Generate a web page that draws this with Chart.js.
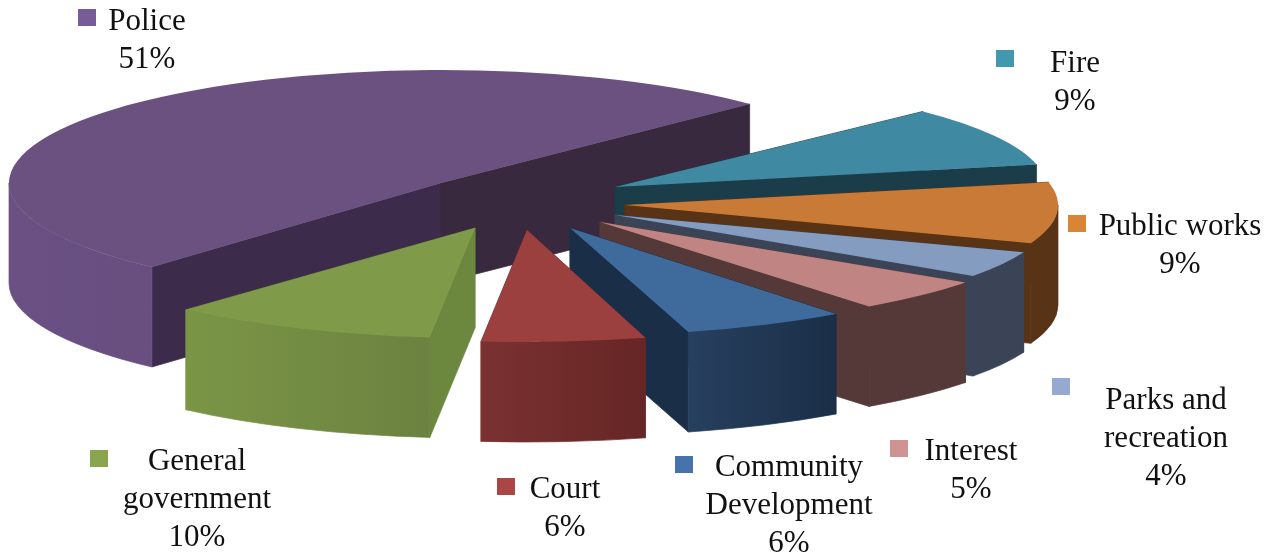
<!DOCTYPE html>
<html>
<head>
<meta charset="utf-8">
<title>City expenditures by function</title>
<style>
  html, body { margin: 0; padding: 0; background: #fff; }
  canvas { display: block; }
</style>
<script src="https://cdn.jsdelivr.net/npm/chart.js@4"></script>
</head>
<body>
<canvas id="chart" width="1276" height="554"></canvas>
<script>
// Spending shares, clockwise from the start of the Police slice
const categories = ['Police', 'Fire', 'Public works', 'Parks and recreation', 'Interest', 'Community Development', 'Court', 'General government'];
const shares = [51, 9, 9, 4, 5, 6, 6, 10];

// Slice palette
const topColors = ['#6a5180', '#3f8aa2', '#c97a36', '#849cc0', '#c08582', '#3f6b9c', '#9b403e', '#7f9a48'];
const keyColors = ['#775c9a', '#4198af', '#d98536', '#95a9d1', '#d09393', '#4673ab', '#aa4644', '#89a54e'];
const wallLeft = ['#6a5083', '#1b3d4a', '#583315', '#3b4356', '#543938', '#27405f', '#7b3131', '#7b9546'];
const wallRight = ['#684f80', '#1b3d4a', '#583315', '#3b4356', '#543938', '#1a2e47', '#652625', '#6b8240'];
const faceStart = ['#3c2b4a', '#1b3d4a', '#583315', '#3b4356', '#543938', '#1a2e47', '#652625', '#6c873e'];
const faceEnd = ['#38293f', '#1b3d4a', '#583315', '#3b4356', '#543938', '#1a2e47', '#652625', '#6c873e'];

// Tilted-disc geometry: centre and extrusion depth in pixels
const disc = { x: 440, y: 185, depth: 100 };
// Each slice's ellipse radii; nearer slices read a little wider and flatter
const radiusX = [432, 431, 433, 436, 445, 440, 440, 432];
const radiusY = [113, 108, 110, 107, 106, 108, 112, 110];
// How far each slice is pulled away from the disc centre
const pullX = [1, 175, 185, 175, 160, 130, 87, 35];
const pullY = [-2, 2, 20, 30, 37, 43, 45, 43];
// Painting order, back to front
const paintOrder = [0, 1, 2, 3, 4, 5, 7, 6];

// Label text lines plus where each block sits
const labelLines = [['Police'], ['Fire'], ['Public works'], ['Parks and', 'recreation'], ['Interest'], ['Community', 'Development'], ['Court'], ['General', 'government']];
const labelX = [147, 1075, 1180, 1166, 971, 789, 565, 197];
const labelY = [30, 72, 235, 409, 460, 476, 498, 470];
const keyX = [78, 996, 1068, 1052, 890, 675, 497, 90];
const keyY = [9, 50, 215, 378, 440, 456, 478, 450];
const lineStep = 37.8;
const labelFont = '31px "Liberation Serif"';

// Fills a shape and strokes it in the same colour so neighbouring pieces meet without hairlines
function paint(ctx, color) {
  ctx.fillStyle = color;
  ctx.strokeStyle = color;
  ctx.lineWidth = 0.7;
  ctx.lineJoin = 'round';
  ctx.fill();
  ctx.stroke();
}

function drawFace(ctx, x, y, angle, i, color) {
  const ex = x + Math.cos(angle) * radiusX[i];
  const ey = y + Math.sin(angle) * radiusY[i];
  ctx.beginPath();
  ctx.moveTo(x, y);
  ctx.lineTo(ex, ey);
  ctx.lineTo(ex, ey + disc.depth);
  ctx.lineTo(x, y + disc.depth);
  ctx.closePath();
  paint(ctx, color);
}

function drawOuterWall(ctx, x, y, start, end, i) {
  const TAU = Math.PI * 2;
  for (let k = -1; k <= 2; k++) {
    const lo = Math.max(start, TAU * k);
    const hi = Math.min(end, TAU * k + Math.PI);
    if (hi <= lo) continue;
    const xa = x + Math.cos(lo) * radiusX[i];
    const xb = x + Math.cos(hi) * radiusX[i];
    const grad = ctx.createLinearGradient(Math.min(xa, xb), 0, Math.max(xa, xb), 0);
    grad.addColorStop(0, wallLeft[i]);
    grad.addColorStop(1, wallRight[i]);
    ctx.beginPath();
    ctx.ellipse(x, y, radiusX[i], radiusY[i], 0, lo, hi);
    ctx.ellipse(x, y + disc.depth, radiusX[i], radiusY[i], 0, hi, lo, true);
    ctx.closePath();
    paint(ctx, grad);
  }
}

// Paints the pie's arc elements as an exploded, extruded disc
const extrudedPie = {
  id: 'extrudedPie',
  beforeDatasetsDraw(chart) {
    const ctx = chart.ctx;
    const arcs = chart.getDatasetMeta(0).data;
    paintOrder.forEach(i => {
      const arc = arcs[i];
      const x = disc.x + pullX[i];
      const y = disc.y + pullY[i];
      drawFace(ctx, x, y, arc.startAngle, i, faceStart[i]);
      drawFace(ctx, x, y, arc.endAngle, i, faceEnd[i]);
      drawOuterWall(ctx, x, y, arc.startAngle, arc.endAngle, i);
      ctx.save();
      ctx.translate(x, y);
      ctx.scale(radiusX[i] / arc.outerRadius, radiusY[i] / arc.outerRadius);
      ctx.translate(-arc.x, -arc.y);
      arc.draw(ctx);
      ctx.restore();
    });
    return false;
  },
  afterDraw(chart) {
    const ctx = chart.ctx;
    ctx.save();
    ctx.font = labelFont;
    ctx.textAlign = 'center';
    ctx.textBaseline = 'alphabetic';
    categories.forEach((name, i) => {
      ctx.fillStyle = keyColors[i];
      ctx.fillRect(keyX[i], keyY[i], 18, 17);
      ctx.fillStyle = '#111';
      const lines = labelLines[i].concat(shares[i] + '%');
      lines.forEach((line, n) => ctx.fillText(line, labelX[i], labelY[i] + n * lineStep));
    });
    ctx.restore();
  }
};

new Chart(document.getElementById('chart'), {
  type: 'pie',
  data: {
    labels: categories,
    datasets: [{ data: shares, backgroundColor: topColors, borderWidth: 0 }]
  },
  options: {
    responsive: false,
    animation: false,
    rotation: 222,
    plugins: { legend: { display: false }, tooltip: { enabled: false } }
  },
  plugins: [extrudedPie]
});
</script>
</body>
</html>
